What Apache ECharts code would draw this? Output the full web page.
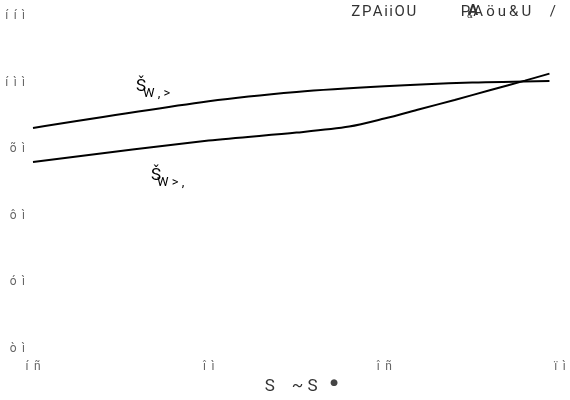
<!DOCTYPE html>
<html>
<head>
<meta charset="utf-8">
<script src="https://cdn.jsdelivr.net/npm/echarts@6/dist/echarts.min.js"></script>
<style>
  html, body { margin: 0; padding: 0; background: #fff; }
  #chart { width: 570px; height: 400px; }
</style>
</head>
<body>
<div id="chart"></div>
<script>
// values
const xUpper = [15, 20, 22.5, 25, 27.5, 29.7];
const yUpper = [93.2, 97.2, 98.6, 99.45, 100.0, 100.25];

const xLower = [15, 20, 22.5, 24, 25, 26, 27, 28, 29, 29.7];
const yLower = [88.1, 91.3, 92.5, 93.4, 94.6, 96.0, 97.4, 98.85, 100.3, 101.35];

// tick labels exactly as they show in the picture (garbled glyphs)
const xTicks = [15, 20, 25, 30];
const xTickLabels = ['í\u2009 ñ', 'î\u2009 ì', 'î\u2009 ñ', 'ï\u2009 ì'];
const yTicks = [60, 70, 80, 90, 100, 110];
const yTickLabels = ['ò\u2009 ì', 'ó\u2009 ì', 'ô\u2009 ì', 'õ\u2009 ì', 'í\u2009 ì\u2009 ì', 'í\u2009 í\u2009 ì'];

const hs = '\u200a';
const titleText = ['Z', 'P', 'A', 'i', 'i', 'O', 'U'].join(hs) + '            ' +
    ['P', 'A', 'ö', 'u', '&', 'U'].join(hs + hs) + '     /';
const xName = 'S    ~ S   ';

function pairs(xs, ys) {
    return xs.map((x, i) => [x, ys[i]]);
}

var chart = echarts.init(document.getElementById('chart'));

const axisCommon = {
    axisLine: { show: false },
    axisTick: { show: false },
    splitLine: { show: false }
};

chart.setOption({
    animation: false,
    backgroundColor: '#fff',
    title: {
        text: titleText,
        right: 9,
        top: 0,
        textStyle: { fontFamily: 'Roboto', fontSize: 15, fontWeight: 'normal', color: '#333' }
    },
    grid: { left: 33, right: 10, top: 16, bottom: 47 },
    xAxis: Object.assign({
        type: 'value',
        min: 15,
        max: 30,
        interval: 5,
        name: '{a|' + xName + '}{d|●}',
        nameLocation: 'middle',
        nameGap: 25,
        nameTextStyle: {
            padding: [0, 0, 0, 10],
            rich: {
                a: { fontFamily: 'Roboto', fontSize: 17, color: '#333' },
                d: { fontFamily: 'DejaVu Sans', fontSize: 9, color: '#444', verticalAlign: 'top', padding: [0, 0, 4, 0] }
            }
        },
        axisLabel: {
            fontFamily: 'Roboto', fontSize: 12, color: '#666', margin: 12,
            formatter: v => xTickLabels[xTicks.indexOf(v)]
        }
    }, axisCommon),
    yAxis: Object.assign({
        type: 'value',
        min: 60,
        max: 110,
        interval: 10,
        axisLabel: {
            fontFamily: 'Roboto', fontSize: 12, color: '#666', margin: 8,
            formatter: v => yTickLabels[yTicks.indexOf(v)]
        }
    }, axisCommon),
    graphic: [
        { type: 'text', left: 136, top: 78, style: { text: 'Š', font: '17px Roboto', fill: '#000' } },
        { type: 'text', left: 143, top: 87, style: { text: 'W , >', font: '13px Roboto', fill: '#000' } },
        { type: 'text', left: 151, top: 167, style: { text: 'Š', font: '17px Roboto', fill: '#000' } },
        { type: 'text', left: 157, top: 176, style: { text: 'W > ,', font: '13px Roboto', fill: '#000' } },
        { type: 'text', left: 468, top: 4, style: { text: 'A', font: 'bold 15px Roboto', fill: '#333' } },
        { type: 'text', left: 467, top: 11, style: { text: '&', font: '9px Roboto', fill: '#333' } }
    ],
    series: [
        {
            type: 'line',
            data: pairs(xUpper, yUpper),
            smooth: 0.3,
            showSymbol: false,
            lineStyle: { color: '#000', width: 2 }
        },
        {
            type: 'line',
            data: pairs(xLower, yLower),
            smooth: 0.3,
            showSymbol: false,
            lineStyle: { color: '#000', width: 2 }
        }
    ]
});
</script>
</body>
</html>
